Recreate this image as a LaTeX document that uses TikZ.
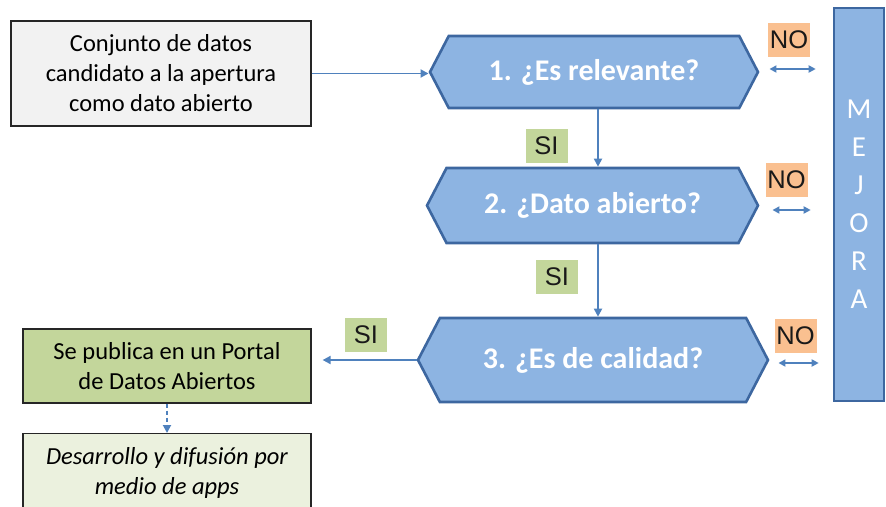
\documentclass[tikz,border=0pt]{standalone}
\usepackage{fontspec}
\setmainfont{Carlito}
\newfontfamily\labelfont{Liberation Sans}
\usetikzlibrary{arrows.meta,shapes.symbols}
\definecolor{boxgray}{HTML}{F2F2F2}
\definecolor{pubgreen}{HTML}{C3D69B}
\definecolor{appgreen}{HTML}{EBF1DE}
\definecolor{qblue}{HTML}{8DB4E2}
\definecolor{qborder}{HTML}{3D67A0}
\definecolor{linkblue}{HTML}{4F81BD}
\definecolor{noorange}{HTML}{FAC090}
\begin{document}
\begin{tikzpicture}[x=1pt,y=-1pt,
    stepbox/.style  = {draw=black!85,line width=1.2pt,align=center,inner sep=0pt,
                       font=\fontsize{24.5}{30}\selectfont},
    question/.style = {signal,signal to=west and east,signal pointer angle=125,
                       draw=qborder,line width=2.6pt,fill=qblue,text=white,inner sep=0pt,
                       font=\bfseries\fontsize{30}{34}\selectfont},
    answer/.style   = {inner sep=0pt,minimum width=42pt,minimum height=34pt,text=black!90,
                       font=\labelfont\fontsize{25.5}{25.5}\selectfont},
    link/.style     = {draw=linkblue,line width=1.8pt,-{Triangle[length=8pt,width=8pt]}},
    both/.style     = {draw=linkblue,line width=1.8pt,
                       {Triangle[length=7pt,width=7pt]}-{Triangle[length=7pt,width=7pt]}}]
        \useasboundingbox (0,0) rectangle (886,506);
        % boxes on the left
        \node[stepbox,fill=boxgray,minimum width=300pt,minimum height=105pt] (datos) at (161,73.5)
            {Conjunto de datos\\candidato a la apertura\\como dato abierto};
        \node[stepbox,fill=pubgreen,minimum width=288pt,minimum height=74pt] (portal) at (167,366)
            {Se publica en un Portal\\de Datos Abiertos};
        \node[stepbox,fill=appgreen,minimum width=288pt,minimum height=104pt,anchor=north,
              font=\itshape\fontsize{24.5}{30}\selectfont] (apps) at (167,433)
            {Desarrollo y difusión por\\medio de apps\\\mbox{}};
        % questions
        \node[question,minimum width=328pt,minimum height=72pt] (relevante) at (594,72) {1. ¿Es relevante?};
        \node[question,minimum width=331pt,minimum height=75pt] (abierto) at (592.5,205.5) {2. ¿Dato abierto?};
        \node[question,minimum width=350pt,minimum height=84pt] (calidad) at (593,360) {3. ¿Es de calidad?};
        \node[draw=qborder,line width=2.6pt,fill=qblue,text=white,align=center,
              minimum width=50pt,minimum height=393pt,font=\fontsize{29}{38}\selectfont] (mejora) at (859,204.5)
            {M\\E\\J\\O\\R\\A};
        % answers
        \node[answer,fill=pubgreen] (si1) at (546.5,146) {SI};
        \node[answer,fill=pubgreen] (si2) at (557,276.5) {SI};
        \node[answer,fill=pubgreen] (si3) at (366,334.5) {SI};
        \node[answer,fill=noorange] (no1) at (789,40) {NO};
        \node[answer,fill=noorange] (no2) at (786.5,180) {NO};
        \node[answer,fill=noorange] (no3) at (795.5,335.5) {NO};
        % connectors
        \draw[link] (datos.east) -- (datos.east -| relevante.west);
        \draw[link] ([xshift=4pt]relevante.south) -- ([xshift=4pt]relevante.south |- abierto.north);
        \draw[link] ([xshift=5.5pt]abierto.south) -- ([xshift=5.5pt]abierto.south |- calidad.north);
        \draw[link,shorten >=11pt] (calidad.west) -- (calidad.west -| portal.east);
        \draw[link,dash pattern=on 4pt off 3pt] (portal.south) -- (apps.north);
        \draw[both,shorten <=10pt,shorten >=17pt] ([yshift=3pt]relevante.east) -- ([yshift=3pt]relevante.east -| mejora.west);
        \draw[both,shorten <=13pt,shorten >=22pt] ([yshift=-4.5pt]abierto.east) -- ([yshift=-4.5pt]abierto.east -| mejora.west);
        \draw[both,shorten <=9pt,shorten >=14pt] ([yshift=-3pt]calidad.east) -- ([yshift=-3pt]calidad.east -| mejora.west);
\end{tikzpicture}
\end{document}
